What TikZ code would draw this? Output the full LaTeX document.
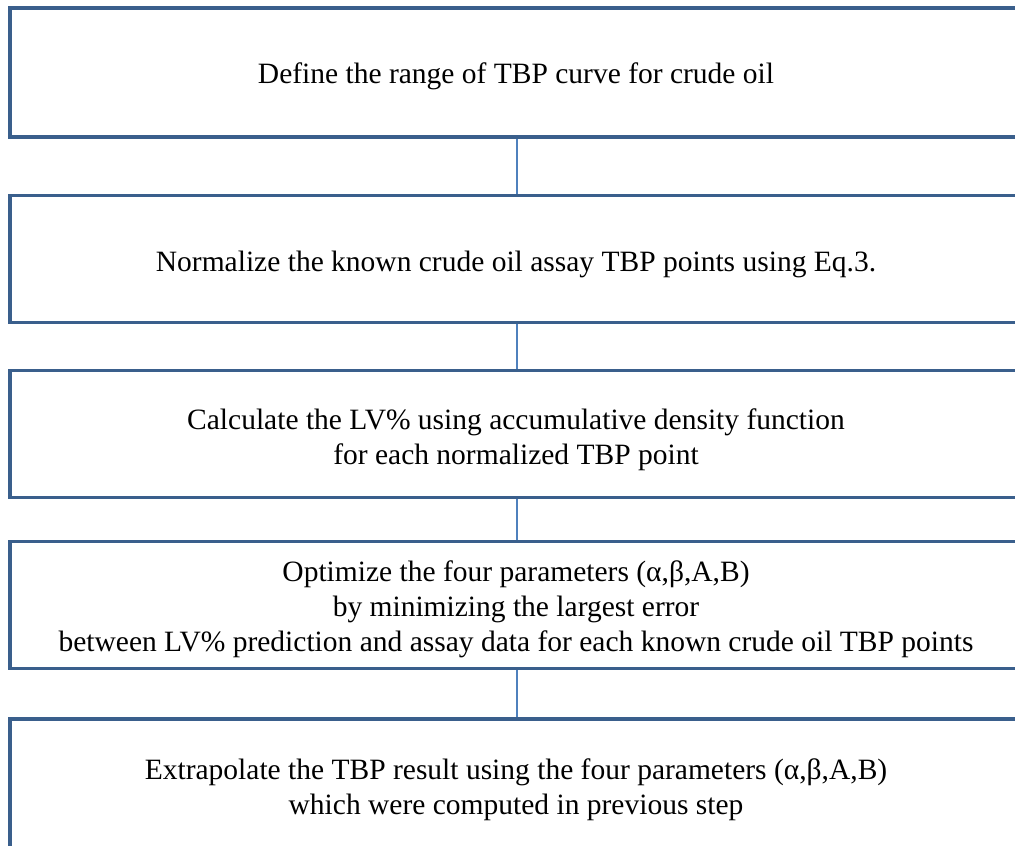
\documentclass[tikz,border=0pt]{standalone}
\usepackage{fontspec}
\setmainfont{Liberation Serif}
\definecolor{boxblue}{RGB}{58,95,140}
\definecolor{linkblue}{RGB}{79,129,189}
\begin{document}
\begin{tikzpicture}[x=1pt,y=-1pt,
  stepbox/.style={draw=boxblue, line width=3.6pt, fill=white, inner sep=0pt,
    minimum width=1014pt},
  steptext/.style={inner sep=0pt, align=center,
    font=\fontsize{29.5}{35}\selectfont},
  link/.style={draw=linkblue, line width=2pt}]
\useasboundingbox (0,0) rectangle (1015,846);
\node[stepbox, minimum height=129pt] (b1) at (517,72.5) {};
\node[stepbox, minimum height=127pt] (b2) at (517,259) {};
\node[stepbox, minimum height=127pt] (b3) at (517,434) {};
\node[stepbox, minimum height=127pt] (b4) at (517,605) {};
\node[stepbox, minimum height=134pt] (b5) at (517,786) {};
\node[steptext] (t1) at (516,76) {Define the range of TBP curve for crude oil};
\node[steptext] (t2) at (516,264) {Normalize the known crude oil assay TBP points using Eq.3.};
\node[steptext] (t3) at (516,440) {Calculate the LV\% using accumulative density function\\for each normalized TBP point};
\node[steptext] (t4) at (516,609) {Optimize the four parameters (α,β,A,B)\\by minimizing the largest error\\between LV\% prediction and assay data for each known crude oil TBP points};
\node[steptext] (t5) at (516,790) {Extrapolate the TBP result using the four parameters (α,β,A,B)\\which were computed in previous step};
\draw[link] (b1.south) -- (b2.north);
\draw[link] (b2.south) -- (b3.north);
\draw[link] (b3.south) -- (b4.north);
\draw[link] (b4.south) -- (b5.north);
\end{tikzpicture}
\end{document}
